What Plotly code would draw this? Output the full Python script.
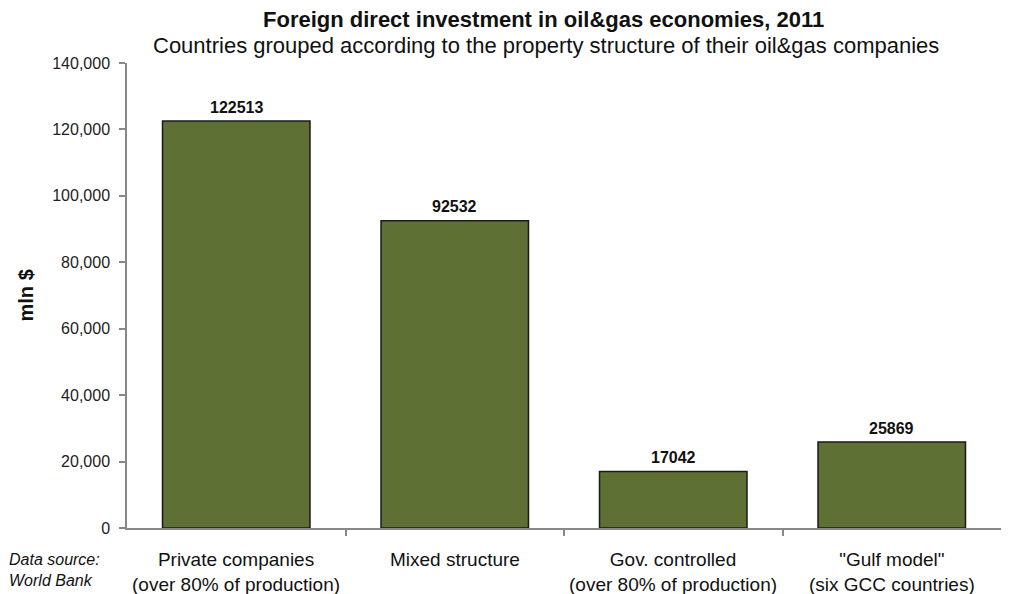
import plotly.graph_objects as go

categories = [
    "Private companies<br>(over 80% of production)",
    "Mixed structure",
    "Gov. controlled<br>(over 80% of production)",
    "\"Gulf model\"<br>(six GCC countries)",
]
fdi_values = [122513, 92532, 17042, 25869]
y_ticks = [0, 20000, 40000, 60000, 80000, 100000, 120000, 140000]

FONT = "Liberation Sans, Arial, sans-serif"
BAR_COLOR = "#5e7034"

# plot area: x 127..1001, y 63..528
fig = go.Figure()
fig.add_trace(go.Bar(
    x=list(range(len(categories))),
    y=fdi_values,
    marker=dict(color=BAR_COLOR, line=dict(color="#1a1a1a", width=1.5)),
    width=0.675,
    hoverinfo="y",
))

# value labels above bars
for i, v in enumerate(fdi_values):
    fig.add_annotation(x=i, y=v, xref="x", yref="y", text=f"<b>{v}</b>",
                       showarrow=False, yanchor="middle", yshift=14,
                       font=dict(family=FONT, size=16, color="#111"))

# category labels below the axis
for i, c in enumerate(categories):
    fig.add_annotation(x=i, y=0, xref="x", yref="y", text=c, showarrow=False,
                       yanchor="top", yshift=-19,
                       font=dict(family=FONT, size=19, color="#111"))

fig.add_annotation(x=-0.1373, y=0, xref="paper", yref="y",
                   text="<i>Data source:<br>World Bank</i>", showarrow=False,
                   xanchor="left", yanchor="top", yshift=-21, align="left",
                   font=dict(family=FONT, size=16, color="#111"))

fig.add_annotation(x=-0.1156, y=0.5, xref="paper", yref="paper",
                   text="<b>mln $</b>", textangle=-90, showarrow=False,
                   xanchor="center", yanchor="middle",
                   font=dict(family=FONT, size=20, color="#111"))

fig.add_annotation(x=0.476, y=1.0925, xref="paper", yref="paper", yanchor="middle",
                   text="<b>Foreign direct investment in oil&gas economies, 2011</b>",
                   showarrow=False, font=dict(family=FONT, size=22, color="#111"))
fig.add_annotation(x=0.479, y=1.0387, xref="paper", yref="paper", yanchor="middle",
                   text="Countries grouped according to the property structure of their oil&gas companies",
                   showarrow=False, font=dict(family=FONT, size=22, color="#111"))

fig.update_layout(
    width=1010, height=594,
    margin=dict(l=127, r=9, t=63, b=66),
    paper_bgcolor="white", plot_bgcolor="white",
    showlegend=False,
    xaxis=dict(
        range=[-0.5, 3.5],
        tickvals=[0.5, 1.5, 2.5], ticktext=["", "", ""],
        ticks="outside", ticklen=6, tickcolor="#888", tickwidth=1.5,
        showline=True, linecolor="#888", linewidth=1.5,
        showgrid=False, zeroline=False, fixedrange=True,
    ),
    yaxis=dict(
        range=[0, 140000], tickvals=y_ticks,
        tickformat=",d",
        ticks="outside", ticklen=6, tickcolor="#888", tickwidth=1.5,
        ticklabelstandoff=6,
        showline=True, linecolor="#888", linewidth=1.5,
        showgrid=False, zeroline=False,
        tickfont=dict(family=FONT, size=16, color="#222"),
    ),
)

fig.write_html("out.html", config={"displayModeBar": False},
               post_script="document.body.style.margin='0';")
